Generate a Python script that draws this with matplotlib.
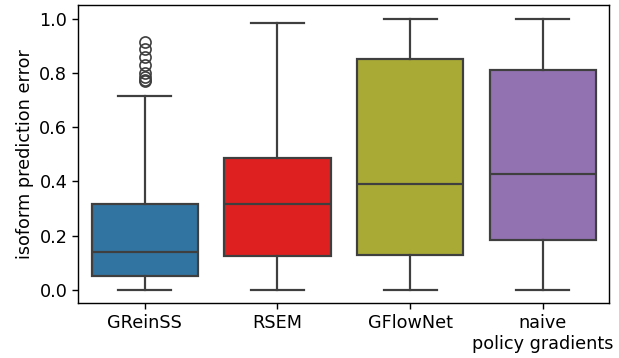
import matplotlib
matplotlib.use("Agg")
import matplotlib.pyplot as plt

methods = ["GReinSS", "RSEM", "GFlowNet", "naive\npolicy gradients"]
q1 = [0.05, 0.125, 0.129, 0.184]
med = [0.14, 0.316, 0.39, 0.426]
q3 = [0.316, 0.485, 0.852, 0.812]
whislo = [0.0, 0.0, 0.0, 0.0]
whishi = [0.717, 0.985, 1.0, 1.0]
fliers = [[0.915, 0.89, 0.86, 0.83, 0.80, 0.785, 0.775, 0.77], [], [], []]
colors = ["#3274a1", "#df2020", "#a9aa35", "#9372b2"]

stats = []
for i, m in enumerate(methods):
    stats.append(dict(label=m, q1=q1[i], med=med[i], q3=q3[i],
                      whislo=whislo[i], whishi=whishi[i], fliers=fliers[i]))

s = 1.27
plt.rcParams.update({
    "font.size": 10 * s,
    "axes.linewidth": 0.8 * s,
    "xtick.major.width": 0.8 * s,
    "ytick.major.width": 0.8 * s,
    "xtick.major.size": 3.5 * s,
    "ytick.major.size": 3.5 * s,
})

fig, ax = plt.subplots(figsize=(6.19, 3.58), dpi=100)
gray = "#3f3f3f"
lw = 1.25 * s
bp = ax.bxp(stats, positions=range(len(methods)), widths=0.8, patch_artist=True,
            boxprops=dict(edgecolor=gray, linewidth=lw),
            medianprops=dict(color=gray, linewidth=lw),
            whiskerprops=dict(color=gray, linewidth=lw),
            capprops=dict(color=gray, linewidth=lw),
            flierprops=dict(marker="o", markerfacecolor="none", markeredgecolor=gray,
                            markersize=8, markeredgewidth=1.2))
for patch, c in zip(bp["boxes"], colors):
    patch.set_facecolor(c)

ax.set_xlim(-0.5, 3.5)
ax.set_ylim(-0.05, 1.05)
ax.set_yticks([0.0, 0.2, 0.4, 0.6, 0.8, 1.0])
ax.set_ylabel("isoform prediction error")

plt.subplots_adjust(left=0.1265, right=0.9843, top=0.985, bottom=0.1528)
plt.savefig("out.png")
